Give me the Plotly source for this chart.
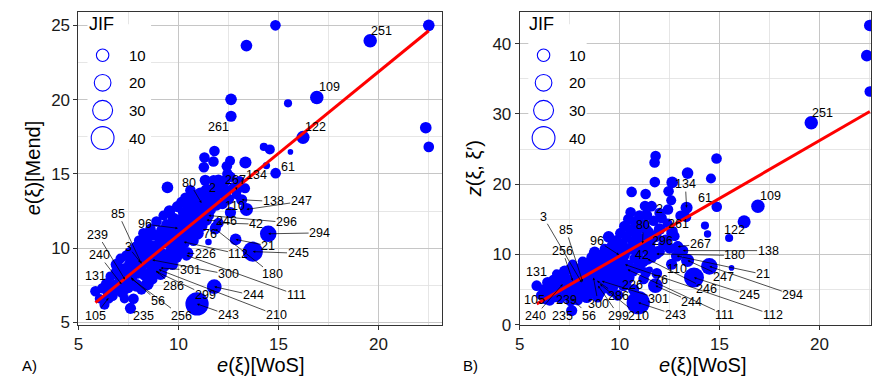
import numpy as np
import plotly.graph_objects as go

# ---------------- data ----------------
# labelled journals
lab_ids = ["251", "109", "122", "261", "61", "134", "267", "2", "80", "138", "247", "110", "296", "246",
           "42", "76", "180", "294", "21", "245", "112", "226", "300", "301", "111", "244", "210", "243",
           "299", "286", "256", "235", "56", "105", "131", "240", "239", "3", "85", "96"]
lab_wos = [19.59, 16.92, 16.23, 12.63, 14.86, 13.35, 12.91, 11.6, 11.15, 13.16, 13.4, 12.6, 11.5, 11.4,
           12.0, 11.86, 11.84, 14.49, 12.86, 13.72, 10.27, 10.43, 8.69, 9.11, 10.4, 11.79, 9.02, 10.93,
           8.92, 8.87, 7.65, 7.6, 7.62, 6.5, 5.85, 7.15, 7.32, 8.1, 8.15, 9.97]
lab_mend = [23.97, 20.15, 17.46, 18.88, 15.05, 15.77, 13.92, 13.7, 13.05, 13.26, 12.61, 12.4, 12.2, 11.89,
            11.7, 11.43, 11.3, 10.97, 10.59, 9.77, 10.42, 9.66, 9.21, 8.67, 9.52, 7.41, 8.56, 6.25,
            8.41, 8.48, 7.95, 5.95, 8.02, 6.64, 7.1, 7.58, 7.9, 9.05, 8.95, 11.34]
lab_z = [28.75, 16.87, 14.65, 13.3, 16.78, 16.64, 11.1, 16.87, 11.55, 10.54, 9.15, 8.6, 11.13, 9.33,
         10.4, 7.3, 10.07, 8.3, 9.79, 6.7, 8.55, 6.7, 6.7, 6.2, 7.85, 5.55, 5.77, 3.13,
         5.55, 6.24, 6.24, 2.0, 3.7, 3.5, 5.55, 5.77, 5.0, 6.0, 6.1, 9.93]
lab_jif = [14, 14, 13, 9, 8, 11, 9, 8, 10, 9, 13, 9, 9, 9,
           8, 8, 9, 22, 10, 33, 9, 12, 9, 9, 8, 17, 8, 45,
           9, 9, 9, 9, 8, 9, 8, 9, 9, 9, 9, 9]

# other journals
wos = [14.85, 13.4, 22.52, 22.37, 22.52, 12.63, 15.48, 15.6, 14.27, 14.57, 14.4, 11.8, 11.75, 11.3,
       11.27, 11.76, 10.6, 12.58, 12.42, 12.45, 13.33, 9.45, 11.5, 11.34, 12.0, 13.05,
       6.05, 6.2, 6.3, 6.4, 6.5, 6.6, 6.7,
       6.8, 6.85, 6.9, 7.0, 7.05, 7.1, 7.2, 7.25, 7.3, 7.4, 7.45, 7.5, 7.55,
       7.6, 7.65, 7.7, 7.75, 7.8, 7.85, 7.9, 7.95, 8.0, 8.05, 8.1, 8.15, 8.2, 8.25, 8.3, 8.35, 8.4, 8.45, 8.5,
       8.55, 8.6, 8.62, 8.68, 8.7, 8.75, 8.8, 8.85, 8.9, 8.95, 9.0, 9.05, 9.1, 9.15, 9.2, 9.25, 9.3, 9.35,
       9.4, 9.45,
       9.5, 9.55, 9.6, 9.65, 9.7, 9.75, 9.8, 9.85, 9.9, 9.95, 10.0, 10.05, 10.1, 10.15, 10.2, 10.25, 10.3,
       10.35, 10.4, 10.45,
       10.5, 10.55, 10.6, 10.65, 10.7, 10.75, 10.8, 10.85, 10.9, 10.95, 11.0, 11.05, 11.1, 11.15, 11.2,
       11.25, 11.3, 11.35, 11.4, 11.45,
       11.5, 11.6, 11.7, 11.8, 11.9, 12.0, 12.1, 12.2, 12.3, 12.4, 12.5, 12.6, 12.75, 12.9,
       10.7, 11.2, 9.9, 8.9, 9.6, 10.2, 7.9, 8.4]
mend = [25.0, 23.64, 25.0, 18.11, 16.82, 20.02, 19.75, 16.48, 16.82, 16.65, 15.56, 16.54, 15.84, 16.1,
        15.45, 14.57, 13.9, 15.88, 15.51, 15.0, 14.03, 14.09, 10.42, 14.57, 14.6, 14.5,
        6.6, 7.3, 6.2, 7.6, 7.0, 8.1, 6.8,
        7.5, 8.4, 8.9, 7.2, 8.0, 9.3, 7.0, 8.6, 6.6, 9.5, 8.0, 7.3, 8.9,
        9.7, 7.8, 8.5, 6.6, 9.1, 10.1, 7.5, 8.3, 9.6, 10.5, 8.8, 7.2, 9.9, 11.0, 8.2, 9.4, 10.6, 7.6, 9.0,
        10.2, 11.3, 8.4, 9.7, 7.9, 10.9, 9.2, 8.6, 11.8, 10.0, 9.0, 10.7, 8.3, 11.2, 9.6, 12.2, 8.8, 10.4,
        11.6, 9.3,
        10.8, 12.5, 9.8, 11.1, 8.9, 12.0, 10.3, 11.5, 9.4, 12.8, 10.6, 11.9, 9.9, 13.1, 11.2, 12.4, 10.4,
        13.4, 11.6, 12.9,
        10.9, 13.0, 12.2, 11.4, 13.6, 10.5, 12.6, 11.8, 13.3, 11.0, 12.9, 12.1, 13.7, 11.5, 12.5,
        13.3, 11.9, 12.8, 13.9, 12.3,
        13.2, 12.6, 14.0, 13.4, 12.9, 14.3, 13.7, 13.0, 14.5, 13.9, 13.3, 14.8, 14.1, 13.6,
        12.3, 12.0, 11.0, 10.2, 10.5, 11.8, 9.0, 9.8]
zval = [23.66, 21.58, 42.6, 38.3, 33.2, 20.25, 12.34, 8.08, 14.1, 20.8, 12.9, 24.0, 23.1, 18.6,
        16.9, 20.3, 18.9, 17.7, 16.4, 19.0, 15.3, 12.5, 7.8, 13.5, 15.9, 15.5,
        4.2, 5.0, 3.6, 6.0, 4.6, 5.4, 6.4,
        4.0, 7.2, 5.2, 6.0, 3.8, 6.8, 5.5, 7.6, 4.4, 6.5, 5.0, 7.9, 3.4,
        6.1, 8.6, 4.8, 5.8, 7.0, 5.3, 6.6, 8.0, 4.3, 7.4, 5.9, 9.0, 6.8, 5.0, 7.8, 3.9, 8.8, 6.2, 5.4,
        7.2, 9.6, 4.8, 8.4, 6.0, 10.3, 5.5, 7.7, 8.9, 6.6, 4.6, 9.8, 7.1, 5.9, 8.2, 10.8, 6.3, 9.2,
        5.2, 7.6,
        10.2, 8.6, 6.9, 11.2, 5.6, 9.4, 7.8, 12.0, 6.4, 10.6, 8.8, 13.0, 7.2, 11.5, 9.9, 14.0, 6.0,
        12.4, 8.4, 15.0,
        10.8, 16.0, 13.4, 7.6, 11.8, 9.4, 14.6, 12.8, 10.2, 8.2, 15.5, 13.8, 11.0, 9.0, 14.2,
        12.2, 7.4, 15.6, 10.6, 13.2,
        11.6, 9.6, 14.8, 12.6, 10.4, 13.6, 15.2, 11.4, 12.0, 14.4, 10.9, 13.0, 12.6, 11.2,
        5.0, 6.5, 4.2, 3.9, 4.8, 5.6, 3.5, 4.0]
jif = [8, 10, 10, 10, 8, 10, 4, 1, 4, 7, 3, 8, 8, 8,
       8, 8, 8, 7, 8, 8, 7, 10, 2, 9, 8, 8,
       6, 8, 7, 9, 10, 7, 8,
       9, 6, 10, 11, 8, 7, 9, 10, 6, 8, 12, 7, 9,
       10, 6, 11, 8, 9, 7, 12, 8, 10, 9, 13, 7, 11, 8, 9, 10, 7, 12, 9,
       10, 8, 11, 9, 7, 10, 12, 9, 8, 11, 10, 9, 13, 8, 10, 7, 9, 11,
       8, 12,
       9, 10, 8, 11, 9, 10, 12, 8, 10, 9, 11, 9, 10, 8, 12, 9, 10,
       8, 11, 9,
       10, 8, 12, 9, 10, 8, 11, 9, 10, 12, 9, 8, 10, 11, 9,
       10, 8, 9, 11, 8,
       10, 9, 8, 11, 9, 10, 8, 9, 10, 7, 9, 8, 7, 6,
       9, 8, 9, 8, 9, 10, 8, 9]

# linear fits (coefficients)
fit_mend = (1.098, -0.09)
fit_z = (1.643, -6.66)

# legend sizes
legend_jif = [10, 20, 30, 40]

# ---------------- layout tables (label placements) ----------------
LBL_A = {"251": (20.15, 24.63, 0), "109": (17.55, 20.85, 0), "122": (16.84, 18.13, 0),
         "261": (12.0, 18.13, 0), "61": (15.48, 15.49, 0), "134": (13.91, 14.9, 0),
         "267": (12.83, 14.57, 1), "2": (11.72, 14.07, 1), "80": (10.55, 14.42, 1),
         "138": (14.74, 13.15, 1), "247": (16.14, 13.15, 1), "110": (12.83, 12.82, 0),
         "296": (15.4, 11.73, 1), "246": (12.39, 11.8, 1), "42": (13.88, 11.62, 1),
         "76": (11.59, 10.97, 1), "180": (14.7, 8.23, 1), "294": (17.06, 11.03, 1),
         "21": (14.49, 10.16, 1), "245": (15.98, 9.66, 1), "112": (13.0, 9.61, 1),
         "226": (11.34, 9.61, 1), "300": (12.5, 8.23, 1), "301": (10.6, 8.52, 1),
         "111": (15.89, 6.86, 1), "244": (13.74, 6.82, 1), "210": (14.9, 5.5, 1),
         "243": (12.5, 5.5, 1), "299": (11.34, 6.86, 1), "286": (9.77, 7.43, 1),
         "256": (10.13, 5.46, 1), "235": (8.23, 5.46, 0), "56": (8.97, 6.42, 1),
         "105": (5.83, 5.46, 1), "131": (5.83, 8.13, 0), "240": (6.03, 9.54, 1),
         "239": (5.96, 10.92, 1), "3": (7.48, 10.1, 1), "85": (6.99, 12.32, 1), "96": (8.31, 11.62, 1)}
LBL_B = {"251": (20.16, 30.14, 0), "109": (17.54, 18.25, 0), "122": (15.77, 13.54, 0),
         "61": (14.28, 18.03, 0), "134": (13.29, 20.01, 1), "2": (12.01, 16.5, 0),
         "261": (12.95, 14.33, 0), "80": (11.18, 14.19, 1), "296": (12.13, 11.87, 0),
         "267": (14.03, 11.46, 1), "138": (17.43, 10.54, 1), "180": (15.77, 9.85, 1),
         "42": (11.13, 9.93, 0), "110": (12.85, 7.9, 0), "21": (17.18, 7.16, 1),
         "247": (15.19, 6.84, 1), "245": (16.52, 4.16, 1), "294": (18.67, 4.24, 1),
         "246": (14.36, 5.08, 1), "76": (12.05, 6.3, 0), "244": (13.62, 3.23, 1),
         "111": (15.27, 1.39, 1), "112": (17.67, 1.39, 1), "243": (12.79, 1.39, 1),
         "301": (11.96, 3.69, 1), "226": (10.64, 5.63, 1), "210": (10.95, 1.29, 1),
         "299": (9.96, 1.29, 1), "286": (9.96, 4.06, 1), "300": (8.93, 3.0, 1),
         "56": (8.46, 1.29, 1), "235": (7.14, 1.29, 1), "240": (5.78, 1.25, 1),
         "239": (7.32, 3.47, 0), "105": (5.73, 3.47, 0), "131": (5.82, 7.49, 0),
         "256": (7.14, 10.54, 1), "3": (6.18, 15.34, 1), "85": (7.31, 13.5, 1), "96": (8.88, 11.93, 1)}

# ---------------- figure ----------------
W, H = 872, 386
FONT = "Liberation Sans, Arial, Helvetica, sans-serif"
BLUE = "#0000FF"


def msize(j):
    return 2 * np.sqrt(5 + 2.9 * np.asarray(j, dtype=float))


X = lab_wos + wos
YA = lab_mend + mend
YB = lab_z + zval
J = lab_jif + jif

fig = go.Figure()
fig.add_trace(go.Scatter(x=X, y=YA, mode="markers", xaxis="x", yaxis="y",
                         marker=dict(size=msize(J), color=BLUE, opacity=1, line=dict(width=0)),
                         opacity=1, hoverinfo="skip", showlegend=False))
fig.add_trace(go.Scatter(x=X, y=YB, mode="markers", xaxis="x2", yaxis="y2",
                         marker=dict(size=msize(J), color=BLUE, opacity=1, line=dict(width=0)),
                         opacity=1, hoverinfo="skip", showlegend=False))
xs = [min(X), max(X)]
fig.add_trace(go.Scatter(x=xs, y=[fit_mend[0] * v + fit_mend[1] for v in xs], mode="lines",
                         xaxis="x", yaxis="y", line=dict(color="#FF0000", width=3),
                         hoverinfo="skip", showlegend=False))
fig.add_trace(go.Scatter(x=xs, y=[fit_z[0] * v + fit_z[1] for v in xs], mode="lines",
                         xaxis="x2", yaxis="y2", line=dict(color="#FF0000", width=3),
                         hoverinfo="skip", showlegend=False))

ann = []


def add_labels(table, yvals, xr, yr):
    for i, lid in enumerate(lab_ids):
        lx, ly, arrow = table[lid]
        if arrow:
            ann.append(dict(x=lab_wos[i], y=yvals[i], xref=xr, yref=yr, axref=xr, ayref=yr,
                            ax=lx, ay=ly, text=lid, showarrow=True, arrowhead=2, arrowsize=0.7,
                            arrowwidth=0.7, arrowcolor="#000000", standoff=0, borderpad=0,
                            font=dict(family=FONT, size=12.5, color="#000000")))
        else:
            ann.append(dict(x=lx, y=ly, xref=xr, yref=yr, text=lid, showarrow=False, borderpad=0,
                            font=dict(family=FONT, size=12.5, color="#000000")))


add_labels(LBL_A, lab_mend, "x", "y")
add_labels(LBL_B, lab_z, "x2", "y2")


def paper(px, py):
    return px / W, 1 - py / H


def text(px, py, s, size, xanchor="center", angle=0):
    x, y = paper(px, py)
    ann.append(dict(x=x, y=y, xref="paper", yref="paper", text=s, showarrow=False,
                    xanchor=xanchor, yanchor="middle", textangle=angle,
                    font=dict(family=FONT, size=size, color="#000000")))


# axis titles and panel tags
text(258, 375, "<i>e</i>(ξ)[WoS]", 20)
text(703, 375, "<i>e</i>(ξ)[WoS]", 20)
text(28, 172, "<i>e</i>(ξ)[Mend]", 20, angle=-90)
text(472, 173, "<i>z</i>(ξ, ξ′)", 20, angle=-90)
text(25, 375, "A)", 15)
text(469, 375, "B)", 15)

shapes = []
# legend backgrounds (cover grid)
shapes.append(dict(type="rect", xref="x", yref="y", x0=5.45, x1=8.63, y0=16.67, y1=25.07,
                   fillcolor="white", line=dict(width=0), layer="between"))
shapes.append(dict(type="rect", xref="x2", yref="y2", x0=5.43, x1=8.35, y0=25.0, y1=42.76,
                   fillcolor="white", line=dict(width=0), layer="between"))

leg_y = [56.7, 85.0, 113.3, 141.7]
for cx, tx, jx in [(98.3, 123, 97), (542.3, 566, 540)]:
    text(jx, 25, "JIF", 18)
    for k, jv in enumerate(legend_jif):
        r = float(msize(jv)) / 2 + 0.4
        xa, ya = paper(cx, leg_y[k])
        shapes.append(dict(type="circle", xref="paper", yref="paper", xsizemode="pixel",
                           ysizemode="pixel", xanchor=xa, yanchor=ya, x0=-r, x1=r, y0=-r, y1=r,
                           line=dict(color=BLUE, width=1.1), fillcolor="rgba(0,0,0,0)"))
        text(tx, leg_y[k], str(jv), 15, xanchor="left")

axis_common = dict(ticks="outside", ticklen=4, tickcolor="#333333", tickwidth=1,
                   showline=True, mirror=True, linecolor="#333333", linewidth=1,
                   showgrid=True, gridcolor="#c6c6c6", gridwidth=1.1, zeroline=False,
                   tickfont=dict(family=FONT, size=17, color="#1a1a1a"))

y0d, y1d = 1 - 333.5 / H, 1 - 12 / H
fig.update_layout(
    width=W, height=H, margin=dict(l=0, r=0, t=0, b=0),
    paper_bgcolor="white", plot_bgcolor="white", showlegend=False,
    xaxis=dict(domain=[74 / W, 440 / W], range=[5, 23.18], tick0=5, dtick=5, anchor="y",
               minor=dict(dtick=2.5, tick0=5, showgrid=True, gridcolor="#e0e0e0", gridwidth=0.8),
               **axis_common),
    yaxis=dict(domain=[y0d, y1d], range=[4.84, 25.92], tick0=5, dtick=5, anchor="x",
               minor=dict(dtick=2.5, tick0=5, showgrid=True, gridcolor="#e0e0e0", gridwidth=0.8),
               **axis_common),
    xaxis2=dict(domain=[518.3 / W, 1.0], range=[5, 22.58], tick0=5, dtick=5, anchor="y2",
                minor=dict(dtick=2.5, tick0=5, showgrid=True, gridcolor="#e0e0e0", gridwidth=0.8),
                **axis_common),
    yaxis2=dict(domain=[y0d, y1d], range=[-0.03, 44.56], tick0=0, dtick=10, anchor="x2",
                minor=dict(dtick=5, tick0=0, showgrid=True, gridcolor="#e0e0e0", gridwidth=0.8),
                **axis_common),
    annotations=ann, shapes=shapes,
)

fig.write_html("out.html", config={"displayModeBar": False, "staticPlot": True},
               post_script="document.body.style.margin='0';document.body.style.overflow='hidden';")
